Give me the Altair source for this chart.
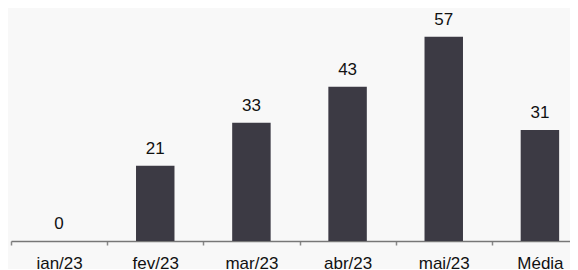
import altair as alt
import pandas as pd

categories = ["jan/23", "fev/23", "mar/23", "abr/23", "mai/23", "Média"]
values = [0, 21, 33, 43, 57, 31]

df = pd.DataFrame({"cat": categories, "val": values})

x = alt.X("cat:N", sort=categories, title=None,
          scale=alt.Scale(range=[0, 577], paddingInner=0, paddingOuter=0),
          axis=alt.Axis(labelAngle=0, labelFont="Liberation Sans", labelFontSize=17,
                        labelColor="#111111", labelPadding=10, labelBaseline="top",
                        tickSize=4, tickColor="#888888", tickWidth=1.5,
                        tickBand="extent", domainColor="#777777", domainWidth=1.5,
                        labelOverlap=False, labelBound=False, labelFlush=False))
y = alt.Y("val:Q", scale=alt.Scale(domain=[0, 65], nice=False), axis=None)

base = alt.Chart(df).encode(x=x, y=y)
bars = base.mark_bar(color="#3c3a44", width=alt.RelativeBandSize(0.4))
labels = base.mark_text(baseline="bottom", dy=-8, font="Liberation Sans",
                        fontSize=17, color="#111111").encode(text="val:Q")

chart = (bars + labels).properties(
    width=559, height=233,
    padding={"left": 3, "top": 0, "right": 0, "bottom": 28},
    autosize=alt.AutoSizeParams(type="none"),
    background="#f8f8f8",
).configure_view(stroke=None)

chart.save("out.html", embed_options={"renderer": "svg", "actions": False})
